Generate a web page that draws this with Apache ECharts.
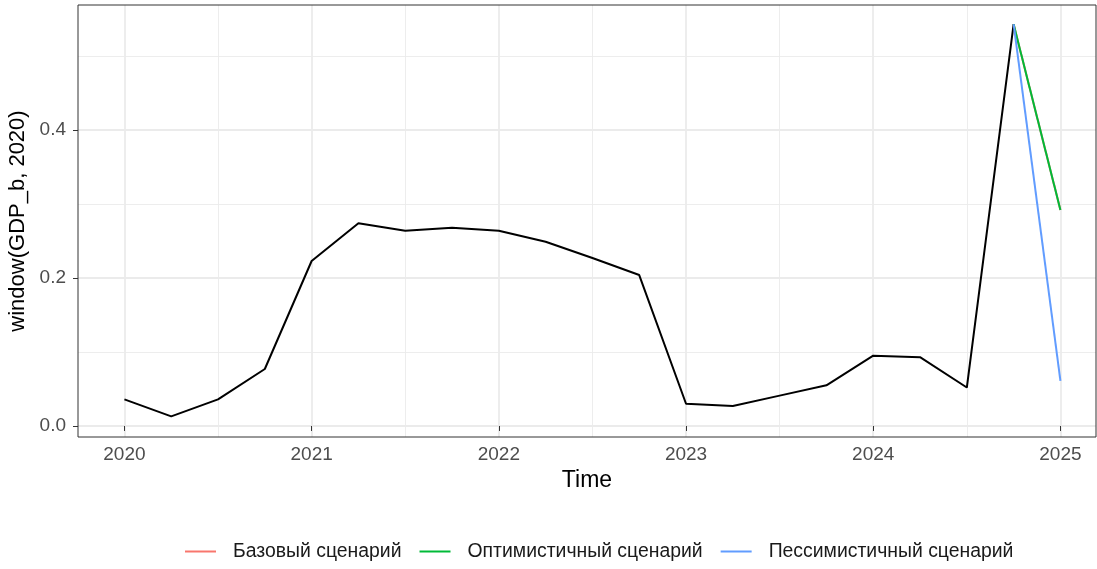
<!DOCTYPE html>
<html>
<head>
<meta charset="utf-8">
<script src="https://cdn.jsdelivr.net/npm/echarts@6/dist/echarts.min.js"></script>
<style>
html,body{margin:0;padding:0;background:#fff;}
#chart{width:1097px;height:569px;}
</style>
</head>
<body>
<div id="chart"></div>
<script>
// Historical quarterly observations
const histTime = [2020.00, 2020.25, 2020.50, 2020.75, 2021.00, 2021.25, 2021.50, 2021.75,
                  2022.00, 2022.25, 2022.50, 2022.75, 2023.00, 2023.25, 2023.50, 2023.75,
                  2024.00, 2024.25, 2024.50, 2024.75];
const histValues = [0.036, 0.013, 0.036, 0.077, 0.223, 0.274, 0.264, 0.268,
                    0.264, 0.249, 0.227, 0.204, 0.030, 0.027, 0.041, 0.055,
                    0.095, 0.093, 0.052, 0.543];
// Scenario forecasts
const scenTime = [2024.75, 2025.00];
const baseValues = [0.543, 0.292];
const optValues = [0.543, 0.292];
const pessValues = [0.543, 0.061];
const scenNames = ['Базовый сценарий', 'Оптимистичный сценарий', 'Пессимистичный сценарий'];
const scenColors = ['#F8766D', '#00BA38', '#619CFF'];
// Axis ticks
const xMajor = [2020, 2021, 2022, 2023, 2024, 2025];
const xMinor = [2020.5, 2021.5, 2022.5, 2023.5, 2024.5];
const yMajor = [0.0, 0.2, 0.4];
const yMinor = [0.1, 0.3, 0.5];

const zip = (xs, ys) => xs.map((x, i) => [x, ys[i]]);
const FONT = 'Liberation Sans, Arial, sans-serif';
const xMin = 2019.752, xMax = 2025.19, yMin = -0.0149, yMax = 0.569;

const chart = echarts.init(document.getElementById('chart'), null, {renderer: 'canvas'});
const lineSeries = (name, data, color, z) => ({
  name, type: 'line', data, symbol: 'none', silent: true, animation: false,
  lineStyle: {color, width: 2}, itemStyle: {color}, z, xAxisIndex: 0, yAxisIndex: 0
});
chart.setOption({
  animation: false,
  backgroundColor: '#ffffff',
  textStyle: {fontFamily: FONT},
  grid: {left: 78, right: 1, top: 5, bottom: 132, containLabel: false, outerBoundsMode: 'none',
         show: true, borderColor: '#333333', borderWidth: 1, backgroundColor: 'transparent', z: 10},
  legend: {
    left: 180, top: 537, itemWidth: 31, itemHeight: 2, itemGap: 18, icon: 'rect',
    data: scenNames,
    textStyle: {fontSize: 19.4, color: '#1a1a1a', fontFamily: FONT, padding: [0, 0, 0, 12]}
  },
  xAxis: [{
    type: 'value', min: xMin, max: xMax,
    name: 'Time', nameLocation: 'middle', nameGap: 32,
    nameTextStyle: {fontSize: 23, color: '#000', fontFamily: FONT},
    axisLine: {show: false},
    axisTick: {show: true, length: 5, lineStyle: {color: '#333', width: 1}, customValues: xMajor},
    axisLabel: {show: true, fontSize: 19, color: '#4D4D4D', margin: 8, customValues: xMajor,
                formatter: v => String(Math.round(v))},
    splitLine: {show: true, lineStyle: {color: '#EBEBEB', width: 1.8}}
  }, {
    type: 'value', min: xMin, max: xMax, position: 'bottom',
    axisLine: {show: false}, axisLabel: {show: false},
    axisTick: {show: false, customValues: xMinor},
    splitLine: {show: true, lineStyle: {color: '#EBEBEB', width: 0.9}}
  }],
  yAxis: [{
    type: 'value', min: yMin, max: yMax,
    name: 'window(GDP_b, 2020)', nameLocation: 'middle', nameGap: 46,
    nameTextStyle: {fontSize: 22, color: '#000', fontFamily: FONT},
    axisLine: {show: false},
    axisTick: {show: true, length: 5, lineStyle: {color: '#333', width: 1}, customValues: yMajor},
    axisLabel: {show: true, fontSize: 19, color: '#4D4D4D', margin: 12, customValues: yMajor,
                formatter: v => v.toFixed(1)},
    splitLine: {show: true, lineStyle: {color: '#EBEBEB', width: 1.8}}
  }, {
    type: 'value', min: yMin, max: yMax, position: 'left',
    axisLine: {show: false}, axisLabel: {show: false},
    axisTick: {show: false, customValues: yMinor},
    splitLine: {show: true, lineStyle: {color: '#EBEBEB', width: 0.9}}
  }],
  series: [
    lineSeries('history', zip(histTime, histValues), '#000000', 3),
    lineSeries(scenNames[0], zip(scenTime, baseValues), scenColors[0], 2),
    lineSeries(scenNames[1], zip(scenTime, optValues), scenColors[1], 3),
    lineSeries(scenNames[2], zip(scenTime, pessValues), scenColors[2], 4)
  ]
});
</script>
</body>
</html>
